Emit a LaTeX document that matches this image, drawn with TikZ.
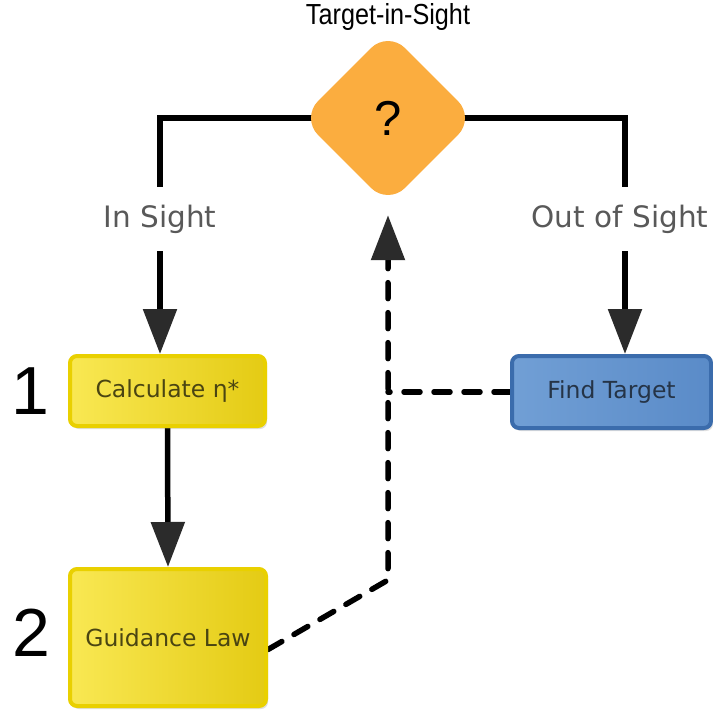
\documentclass[tikz,border=0pt]{standalone}
\usepackage{fontspec}
\setmainfont{DejaVu Sans}
\newfontfamily\arialf{Liberation Sans}
\usetikzlibrary{arrows.meta,shapes.geometric,backgrounds,shadows}
\definecolor{ybord}{HTML}{E9D000}
\definecolor{yleft}{HTML}{F9E853}
\definecolor{yright}{HTML}{E4CB14}
\definecolor{ytext}{HTML}{4A4512}
\definecolor{bbord}{HTML}{3B6CAC}
\definecolor{bleft}{HTML}{719FD5}
\definecolor{bright}{HTML}{5A8BC8}
\definecolor{btext}{HTML}{253447}
\definecolor{orangeq}{HTML}{FBAD3F}
\definecolor{arrowc}{HTML}{2B2B2B}
\definecolor{lblc}{HTML}{595959}
\begin{document}
\begin{tikzpicture}[x=1pt,y=-1pt,
  boxbase/.style={line width=4pt, rounded corners=7pt, inner sep=0pt,
    font=\fontsize{23.5}{27}\selectfont,
    drop shadow={opacity=0.25, shadow xshift=2pt, shadow yshift=-3pt}},
  ybox/.style={boxbase, draw=ybord, left color=yleft, right color=yright, text=ytext},
  bbox/.style={boxbase, draw=bbord, left color=bleft, right color=bright, text=btext},
  decision/.style={diamond, fill=orangeq, minimum width=174pt, minimum height=174pt,
    inner sep=0pt, rounded corners=24pt, font=\arialf\fontsize{49}{52}\selectfont},
  conn/.style={line width=5.5pt, black},
  arr/.style={-{Triangle[length=45pt,width=33pt,color=arrowc]}},
  dashconn/.style={line width=5.5pt, black, line cap=round, dash pattern=on 16pt off 14pt},
  lbl/.style={fill=white, text=lblc, font=\fontsize{29.5}{32}\selectfont,
    minimum height=64pt, inner xsep=2pt},
  numlbl/.style={font=\arialf\fontsize{68}{70}\selectfont, inner sep=0pt}
]
\useasboundingbox (0,0) rectangle (713,716);

\node[decision] (q) at (388,118) {?};
\node[font=\arialf\fontsize{29}{31}\selectfont] (title) at (388,17) {\scalebox{0.87}[1]{Target-in-Sight}};

\node[ybox, minimum width=195pt, minimum height=70pt] (calc) at (167.5,391) {Calculate η*};
\node[bbox, minimum width=199pt, minimum height=72pt] (find) at (611.5,392) {Find Target};
\node[ybox, minimum width=196pt, minimum height=137pt] (guid) at (168,637.5) {Guidance Law};

\node[numlbl] (n1) at (30,391) {1};
\node[numlbl] (n2) at (31,633) {2};

\coordinate (cl) at (160,118);
\coordinate (cr) at (625,118);
\coordinate (bend) at (388,580);

\begin{scope}[on background layer]
  \fill[white] (0,0) rectangle (713,716);
  \draw[conn, arr] (q.center) -- (cl) -- (cl |- calc.north);
  \draw[conn, arr] (q.center) -- (cr) -- (cr |- find.north);
  \draw[conn, arr] (calc.south) -- (guid.north);
  \draw[dashconn, arr, shorten >=10pt] ([yshift=-12pt]guid.east) -- (bend) -- (q.south);
  \draw[dashconn] (find.west) -- (find.west -| bend);
\end{scope}

\node[lbl] (lin) at (160,219) {In Sight};
\node[lbl] (lout) at (620,219) {Out of Sight};
\end{tikzpicture}
\end{document}
